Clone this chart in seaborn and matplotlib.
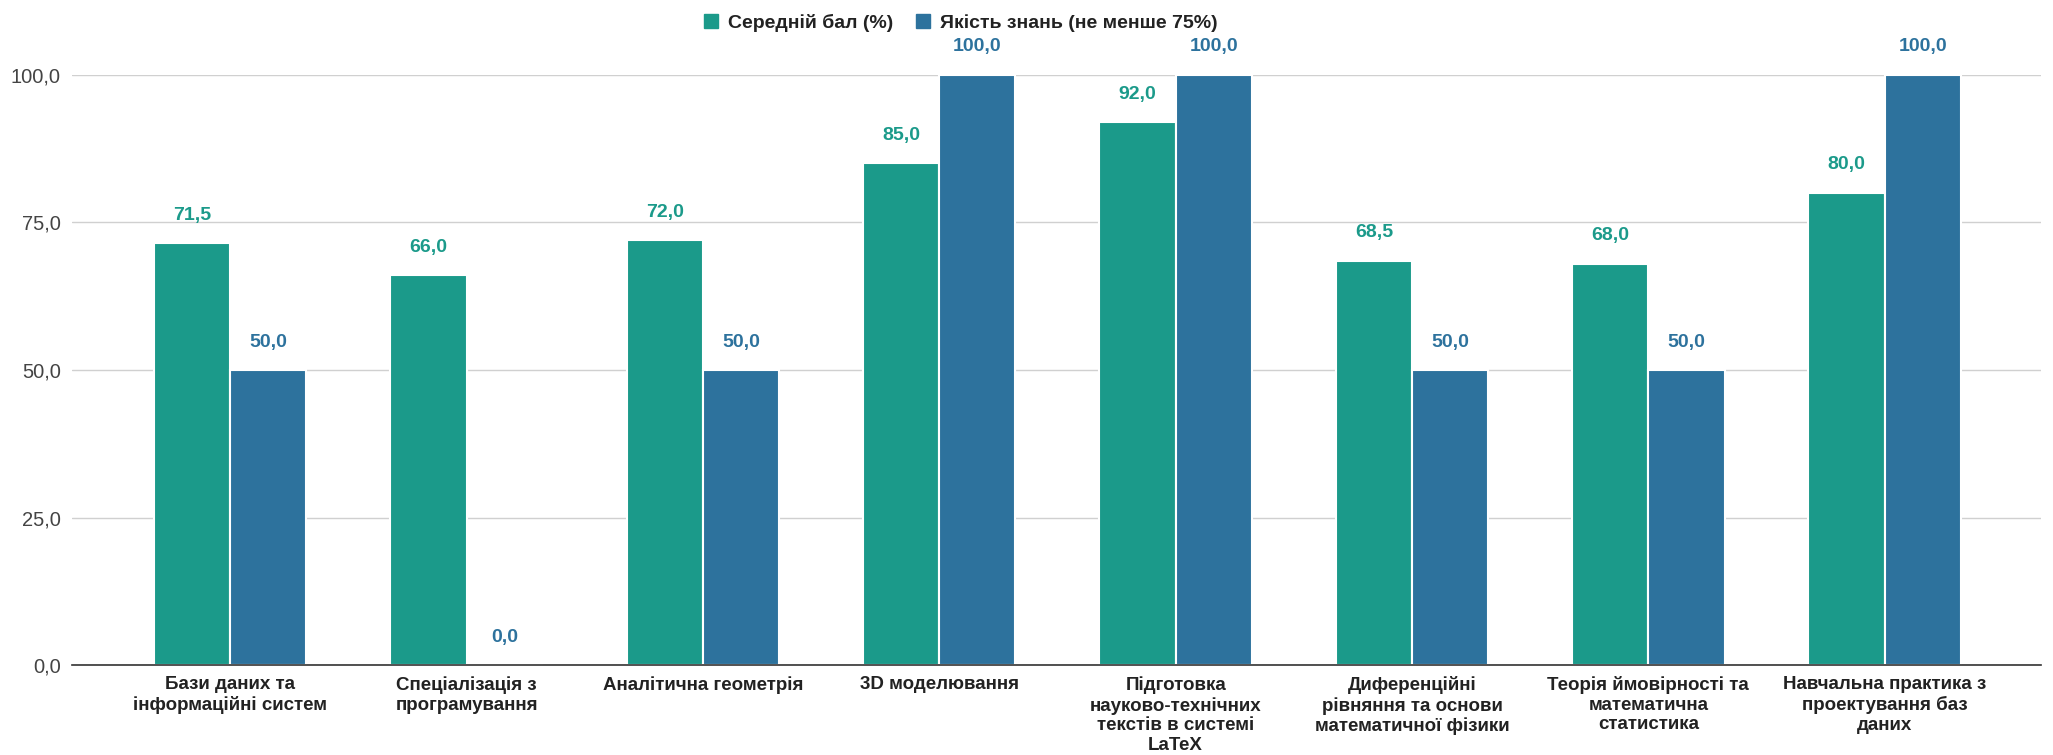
import matplotlib
matplotlib.use("Agg")
import matplotlib.pyplot as plt
import seaborn as sns
import pandas as pd
from matplotlib.patches import Patch

categories = [
    "Бази даних та\nінформаційні систем",
    "Спеціалізація з\nпрограмування",
    "Аналітична геометрія",
    "3D моделювання",
    "Підготовка\nнауково-технічних\nтекстів в системі\nLaTeX",
    "Диференційні\nрівняння та основи\nматематичної фізики",
    "Теорія ймовірності та\nматематична\nстатистика",
    "Навчальна практика з\nпроектування баз\nданих",
]
series_names = ["Середній бал (%)", "Якість знань (не менше 75%)"]
avg_score = [71.5, 66.0, 72.0, 85.0, 92.0, 68.5, 68.0, 80.0]
quality = [50.0, 0.0, 50.0, 100.0, 100.0, 50.0, 50.0, 100.0]
y_ticks = [0, 25, 50, 75, 100]

colors = ["#1B9A8A", "#2D729D"]

df = pd.DataFrame({
    "cat": categories * 2,
    "series": [series_names[0]] * len(categories) + [series_names[1]] * len(categories),
    "value": avg_score + quality,
})

sns.set_theme(style="white")
plt.rcParams["font.family"] = ["Liberation Sans", "DejaVu Sans"]

fig = plt.figure(figsize=(20.53, 7.55), dpi=100)
ax = fig.add_axes([0.035, 0.119, 0.959, 0.782])

sns.barplot(data=df, x="cat", y="value", hue="series", palette=colors,
            saturation=1, width=0.645, edgecolor="white", linewidth=1.5,
            ax=ax, legend=False)

for cont, col in zip(ax.containers, colors):
    vals = [p.get_height() for p in cont]
    labels = [f"{v:.1f}".replace(".", ",") for v in vals]
    ax.bar_label(cont, labels=labels, padding=14, color=col,
                 fontsize=14, fontweight="bold", clip_on=False)

ax.set_ylim(0, 100)
ax.set_xlim(-0.67, 7.66)
ax.set_yticks(y_ticks)
ax.set_yticklabels([f"{v:.1f}".replace(".", ",") for v in y_ticks],
                   fontsize=14.5, color="#444444")
ax.set_xticks(range(len(categories)))
ax.set_xticklabels(categories, fontsize=13.5, fontweight="bold",
                   color="#222222", linespacing=1.2)
ax.tick_params(axis="both", length=0, pad=8)
ax.set_xlabel("")
ax.set_ylabel("")
ax.yaxis.grid(True, color="#d0d0d0", linewidth=1)
ax.set_axisbelow(True)
for s in ["top", "right", "left"]:
    ax.spines[s].set_visible(False)
ax.spines["bottom"].set_color("#333333")
ax.spines["bottom"].set_linewidth(1.2)

handles = [Patch(facecolor=c, edgecolor=c) for c in colors]
fig.legend(handles, series_names, loc="upper center", bbox_to_anchor=(0.468, 1.005),
           ncol=2, frameon=False, handlelength=0.7, handleheight=0.7,
           handletextpad=0.5, columnspacing=1.2,
           prop={"size": 14, "weight": "bold"}, labelcolor="#222222")

fig.savefig("out.png", dpi=100, facecolor="white")
